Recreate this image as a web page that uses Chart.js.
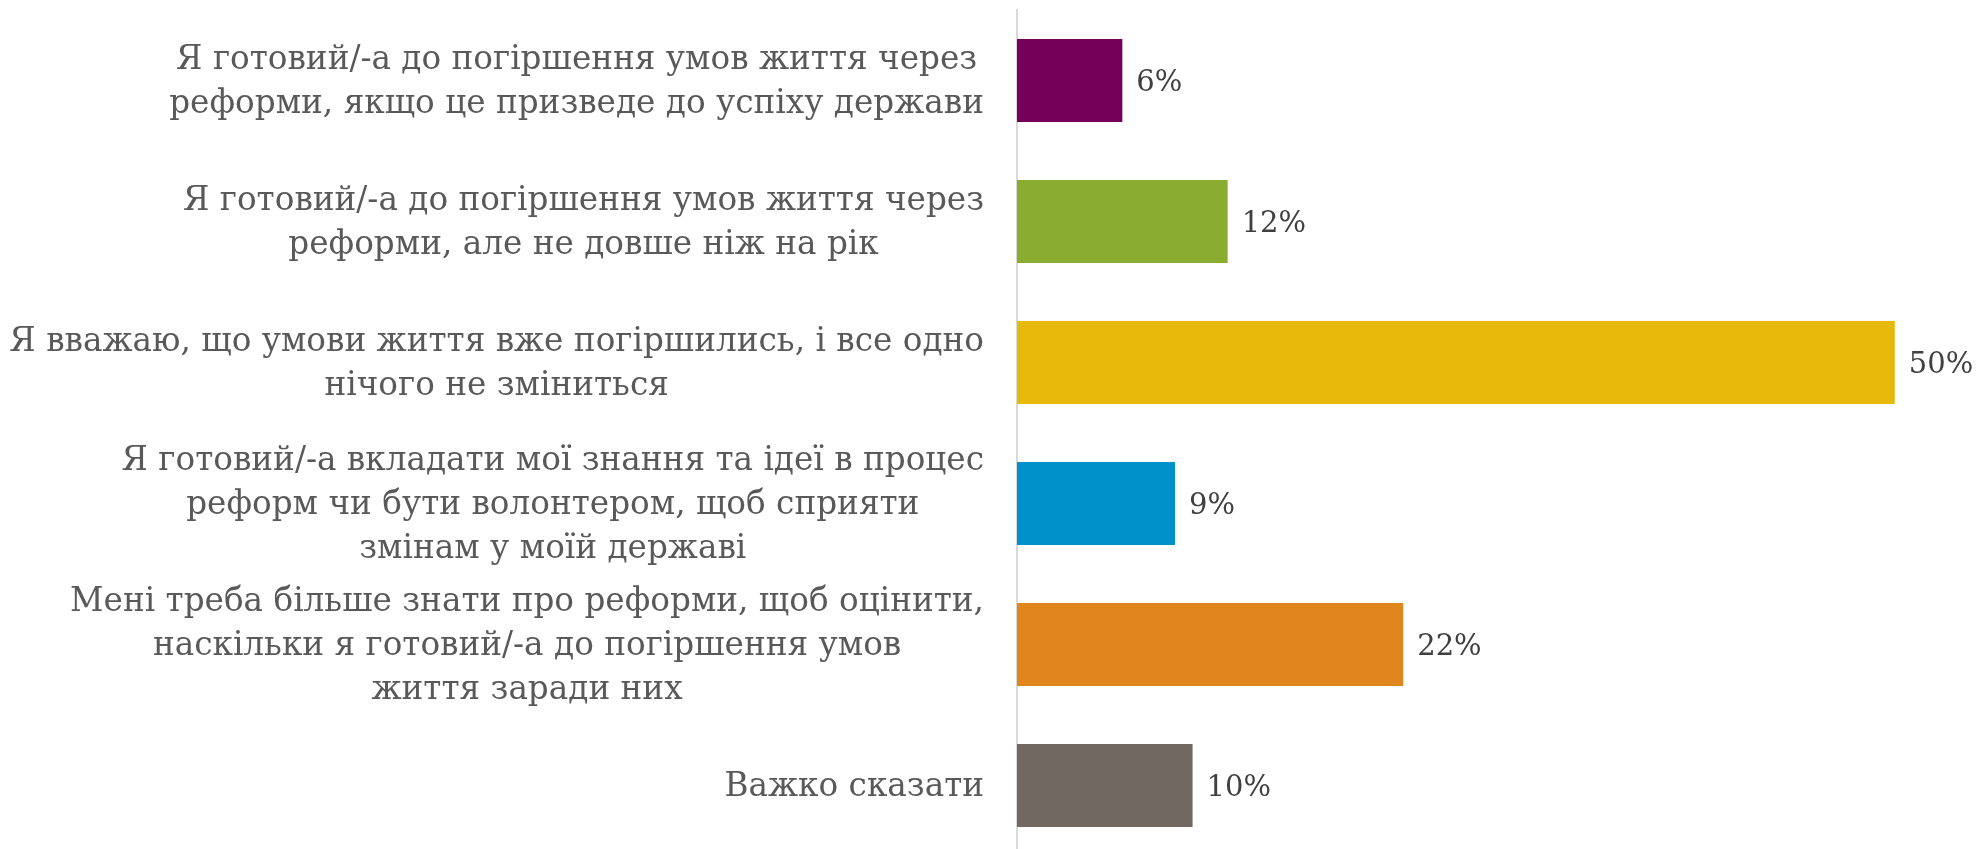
<!DOCTYPE html>
<html>
<head>
<meta charset="utf-8">
<script src="https://cdn.jsdelivr.net/npm/chart.js@4"></script>
<style>
  html, body { margin: 0; padding: 0; background: #ffffff; overflow: hidden; }
  #wrap { width: 1977px; height: 856px; }
</style>
</head>
<body>
<div id="wrap"><canvas id="c" width="1977" height="856"></canvas></div>
<script>
const categories = [
  ["Я готовий/-а до погіршення умов життя через", "реформи, якщо це призведе до успіху держави"],
  ["Я готовий/-а до погіршення умов життя через", "реформи, але не довше ніж на рік"],
  ["Я вважаю, що умови життя вже погіршились, і все одно", "нічого не зміниться"],
  ["Я готовий/-а вкладати мої знання та ідеї в процес", "реформ чи бути волонтером, щоб сприяти", "змінам у моїй державі"],
  ["Мені треба більше знати про реформи, щоб оцінити,", "наскільки я готовий/-а до погіршення умов", "життя заради них"],
  ["Важко сказати"]
];
const values = [6, 12, 50, 9, 22, 10];
const valueLabels = ["6%", "12%", "50%", "9%", "22%", "10%"];
const barColors = ["#75005A", "#8AAC30", "#E6B90B", "#0091CA", "#E0861C", "#716861"];

const LABEL_FONT = "32.7px 'DejaVu Serif'";
const VALUE_FONT = "29px 'DejaVu Serif'";

const labelPlugin = {
  id: 'labelPlugin',
  afterDraw(chart) {
    const ctx = chart.ctx;
    const yScale = chart.scales.y;
    const xScale = chart.scales.x;
    const area = chart.chartArea;
    ctx.save();
    ctx.font = LABEL_FONT;
    ctx.fillStyle = "#595959";
    ctx.textAlign = "center";
    ctx.textBaseline = "middle";
    const lineH = 44;
    categories.forEach((lines, i) => {
      const yc = yScale.getPixelForValue(i) + 2;
      let w = 0;
      lines.forEach(l => { w = Math.max(w, ctx.measureText(l).width); });
      const right = area.left - 33;
      const cx = right - w / 2;
      lines.forEach((l, j) => {
        const y = yc + (j - (lines.length - 1) / 2) * lineH;
        ctx.fillText(l, cx, y);
      });
    });
    ctx.font = VALUE_FONT;
    ctx.fillStyle = "#404040";
    ctx.textAlign = "left";
    values.forEach((v, i) => {
      const x = xScale.getPixelForValue(v) + 14;
      const y = yScale.getPixelForValue(i) + 3;
      ctx.fillText(valueLabels[i], x, y);
    });
    ctx.restore();
  }
};

new Chart(document.getElementById('c'), {
  type: 'bar',
  data: {
    labels: categories.map(c => c.join(' ')),
    datasets: [{
      data: values,
      backgroundColor: barColors,
      borderWidth: 0,
      barPercentage: 0.59,
      categoryPercentage: 1.0
    }]
  },
  options: {
    indexAxis: 'y',
    responsive: false,
    animation: false,
    layout: { padding: { top: 10, right: 12, bottom: 0, left: 0 } },
    plugins: { legend: { display: false }, tooltip: { enabled: false } },
    scales: {
      x: { display: false, min: 0, max: 54 },
      y: {
        ticks: { display: false },
        grid: { display: false },
        border: { display: true, color: '#d9d9d9', width: 2 },
        afterFit(scale) { scale.width = 1017; }
      }
    }
  },
  plugins: [labelPlugin]
});
</script>
</body>
</html>
